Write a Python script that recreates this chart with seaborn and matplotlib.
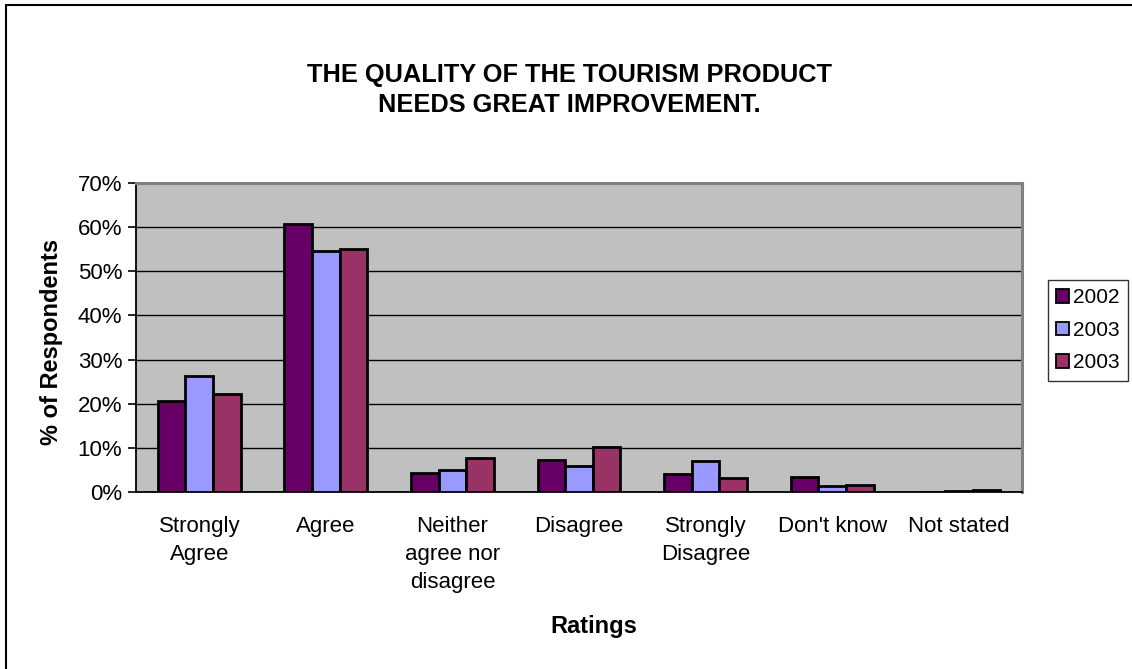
import matplotlib
matplotlib.use("Agg")
import matplotlib.pyplot as plt
from matplotlib.patches import Patch
from matplotlib.lines import Line2D
from matplotlib.ticker import FixedLocator, FuncFormatter
import seaborn as sns
import pandas as pd

# Survey responses (% of respondents) per rating category
categories = ["Strongly\nAgree", "Agree", "Neither\nagree nor\ndisagree", "Disagree",
              "Strongly\nDisagree", "Don't know", "Not stated"]
series_keys = ["s2002", "s2003a", "s2003b"]
series_labels = ["2002", "2003", "2003"]
values_2002 = [20.7, 60.6, 4.3, 7.2, 4.0, 3.4, 0.0]
values_2003a = [26.2, 54.5, 5.0, 5.8, 7.0, 1.3, 0.3]
values_2003b = [22.2, 55.0, 7.6, 10.3, 3.2, 1.6, 0.5]
series_colors = ["#660066", "#9999FF", "#993366"]
y_ticks = [0, 10, 20, 30, 40, 50, 60, 70]

rows = []
for key, vals in zip(series_keys, [values_2002, values_2003a, values_2003b]):
    for cat, v in zip(categories, vals):
        rows.append({"Rating": cat, "Series": key, "Percent": v})
df = pd.DataFrame(rows)

sns.set_theme(style="white")
plt.rcParams["font.family"] = ["Liberation Sans", "DejaVu Sans"]
for k in ["text.color", "axes.labelcolor", "xtick.color", "ytick.color"]:
    plt.rcParams[k] = "black"

fig = plt.figure(figsize=(11.32, 6.69), dpi=100)
ax = fig.add_axes([136 / 1132, 1 - 492 / 669, (1022 - 136) / 1132, (492 - 183) / 669])
ax.set_facecolor("#C0C0C0")

sns.barplot(data=df, x="Rating", y="Percent", hue="Series", order=categories,
            hue_order=series_keys, palette=series_colors, saturation=1,
            width=0.655, gap=0, edgecolor="black", linewidth=2.0,
            errorbar=None, legend=False, ax=ax, zorder=3)

ax.set_xlim(-0.5, len(categories) - 0.5)
ax.set_ylim(0, 70)
ax.yaxis.set_major_locator(FixedLocator(y_ticks))
ax.yaxis.set_major_formatter(FuncFormatter(lambda v, p: f"{v:.0f}%"))
ax.grid(axis="y", color="black", linewidth=1.0, zorder=0)
ax.set_axisbelow(True)

# Category labels centered, tick marks at group boundaries
ax.tick_params(axis="x", which="major", length=0, pad=17, labelsize=16)
ax.xaxis.set_minor_locator(FixedLocator([i + 0.5 for i in range(-1, len(categories))]))
ax.tick_params(axis="x", which="minor", length=6, width=1.2, color="black", direction="out")
ax.tick_params(axis="y", which="major", length=6, width=1.2, color="black",
               direction="out", pad=4, labelsize=16, left=True)
for lbl in ax.get_xticklabels():
    lbl.set_verticalalignment("top")
    lbl.set_linespacing(1.45)

for side in ["left", "bottom"]:
    ax.spines[side].set_color("black")
    ax.spines[side].set_linewidth(1.3)
for side in ["top", "right"]:
    ax.spines[side].set_color("#808080")
    ax.spines[side].set_linewidth(2.2)

ax.set_xlabel("Ratings", fontsize=17, fontweight="bold")
ax.xaxis.set_label_coords((594 - 136) / 886, (492 - 627) / 309)
ax.xaxis.label.set_verticalalignment("center")
ax.set_ylabel("% of Respondents", fontsize=17, fontweight="bold")
ax.yaxis.set_label_coords((52 - 136) / 886, (492 - 342) / 309)
ax.yaxis.label.set_verticalalignment("center")
fig.text(0.503, 1 - 90 / 669, "THE QUALITY OF THE TOURISM PRODUCT\nNEEDS GREAT IMPROVEMENT.",
         ha="center", va="center", fontsize=18.3, fontweight="bold", linespacing=1.35)

handles = [Patch(facecolor=c, edgecolor="black", linewidth=1.3) for c in series_colors]
leg = fig.legend(handles, series_labels, loc="upper right",
                 bbox_to_anchor=(1128 / 1132, 1 - 280 / 669), bbox_transform=fig.transFigure,
                 borderaxespad=0, fontsize=15, frameon=True, fancybox=False,
                 handlelength=0.6, handleheight=0.6, handletextpad=0.2,
                 labelspacing=0.65, borderpad=0.4)
leg.get_frame().set_edgecolor("black")
leg.get_frame().set_linewidth(1.0)

# Outer chart frame (top and left edges)
fig.add_artist(Line2D([6 / 1132, 6 / 1132], [0, 1 - 5 / 669], color="black", linewidth=1.5,
                      transform=fig.transFigure))
fig.add_artist(Line2D([6 / 1132, 1], [1 - 5 / 669, 1 - 5 / 669], color="black", linewidth=1.5,
                      transform=fig.transFigure))

fig.savefig("out.png", dpi=100)
